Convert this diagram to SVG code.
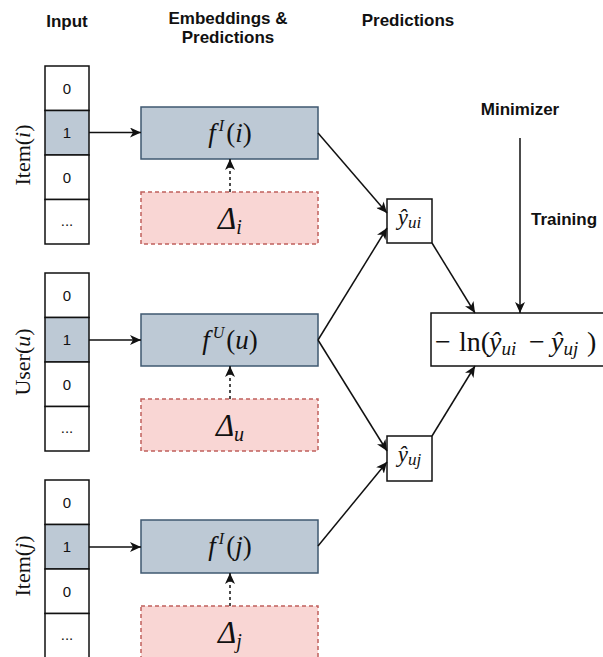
<svg xmlns="http://www.w3.org/2000/svg" width="603" height="657" viewBox="0 0 603 657">
<defs>
<style>
.hdr{font-family:"Liberation Sans",Arial,sans-serif;font-weight:bold;font-size:17px;fill:#111;text-anchor:middle}
.cell{fill:#fff;stroke:#111;stroke-width:1.5}
.hot{fill:#bdc9d5;stroke:#111;stroke-width:1.5}
.num{font-family:"Liberation Sans",Arial,sans-serif;font-size:15px;fill:#111;text-anchor:middle}
.emb{fill:#bdc9d5;stroke:#3f5870;stroke-width:1.5}
.del{fill:#f9d6d4;stroke:#c0605c;stroke-width:1.5;stroke-dasharray:4 3}
.box{fill:#fff;stroke:#111;stroke-width:1.5}
.m{font-family:"Liberation Serif","Times New Roman",serif;fill:#111}
.it{font-style:italic}
.rot{font-family:"Liberation Serif","Times New Roman",serif;font-size:22px;fill:#111;text-anchor:middle}
.ln{stroke:#111;stroke-width:1.5;fill:none}
</style>
<marker id="ah" markerUnits="userSpaceOnUse" markerWidth="12" markerHeight="10" refX="11" refY="5" orient="auto">
<path d="M0,0 L11,5 L0,10 L3,5 Z" fill="#111"/>
</marker>
</defs>
<rect width="603" height="657" fill="#fff"/>

<g id="headers">
<text class="hdr" x="67" y="27">Input</text>
<text class="hdr" x="228" y="24">Embeddings &amp;</text>
<text class="hdr" x="228" y="43">Predictions</text>
<text class="hdr" x="408" y="26">Predictions</text>
<text class="hdr" x="520" y="115">Minimizer</text>
<text class="hdr" x="564" y="225">Training</text>
</g>

<g id="input-item-i">
<rect class="cell" x="45" y="66" width="44" height="44.5"/>
<rect class="hot" x="45" y="110.5" width="44" height="44.5"/>
<rect class="cell" x="45" y="155" width="44" height="44.5"/>
<rect class="cell" x="45" y="199.5" width="44" height="44.5"/>
<text class="num" x="67" y="94">0</text>
<text class="num" x="67" y="138">1</text>
<text class="num" x="67" y="183">0</text>
<text class="num" x="67" y="226">...</text>
<text class="rot" transform="translate(30 155) rotate(-90)">Item(<tspan class="it">i</tspan>)</text>
</g>

<g id="input-user-u">
<rect class="cell" x="45" y="273" width="44" height="44.5"/>
<rect class="hot" x="45" y="317.5" width="44" height="44.5"/>
<rect class="cell" x="45" y="362" width="44" height="44.5"/>
<rect class="cell" x="45" y="406.5" width="44" height="44.5"/>
<text class="num" x="67" y="301">0</text>
<text class="num" x="67" y="345">1</text>
<text class="num" x="67" y="390">0</text>
<text class="num" x="67" y="433">...</text>
<text class="rot" transform="translate(30 362) rotate(-90)">User(<tspan class="it">u</tspan>)</text>
</g>

<g id="input-item-j">
<rect class="cell" x="45" y="480" width="44" height="44.5"/>
<rect class="hot" x="45" y="524.5" width="44" height="44.5"/>
<rect class="cell" x="45" y="569" width="44" height="44.5"/>
<rect class="cell" x="45" y="613.5" width="44" height="50"/>
<text class="num" x="67" y="508">0</text>
<text class="num" x="67" y="552">1</text>
<text class="num" x="67" y="597">0</text>
<text class="num" x="67" y="640">...</text>
<text class="rot" transform="translate(30 566) rotate(-90)">Item(<tspan class="it">j</tspan>)</text>
</g>

<g id="emb-item-i">
<rect class="emb" x="141" y="107" width="177" height="52"/>
<text class="m" x="230" y="142" font-size="27" text-anchor="middle"><tspan class="it">f</tspan><tspan class="it" font-size="16" dx="3" dy="-11">I</tspan><tspan dx="2" dy="11">(</tspan><tspan class="it">i</tspan>)</text>
</g>
<g id="delta-i">
<rect class="del" x="141" y="192" width="177" height="52"/>
<text class="m" x="230" y="229" font-size="31" text-anchor="middle"><tspan class="it">Δ</tspan><tspan class="it" font-size="20" dy="5">i</tspan></text>
</g>

<g id="emb-user-u">
<rect class="emb" x="141" y="314" width="177" height="52"/>
<text class="m" x="230" y="349" font-size="27" text-anchor="middle"><tspan class="it">f</tspan><tspan class="it" font-size="16" dx="3" dy="-11">U</tspan><tspan dx="2" dy="11">(</tspan><tspan class="it">u</tspan>)</text>
</g>
<g id="delta-u">
<rect class="del" x="141" y="399" width="177" height="52"/>
<text class="m" x="230" y="436" font-size="31" text-anchor="middle"><tspan class="it">Δ</tspan><tspan class="it" font-size="20" dy="5">u</tspan></text>
</g>

<g id="emb-item-j">
<rect class="emb" x="141" y="520" width="177" height="53"/>
<text class="m" x="230" y="555" font-size="27" text-anchor="middle"><tspan class="it">f</tspan><tspan class="it" font-size="16" dx="3" dy="-11">I</tspan><tspan dx="2" dy="11">(</tspan><tspan class="it">j</tspan>)</text>
</g>
<g id="delta-j">
<rect class="del" x="141" y="606" width="177" height="60"/>
<text class="m" x="230" y="643" font-size="31" text-anchor="middle"><tspan class="it">Δ</tspan><tspan class="it" font-size="20" dy="5">j</tspan></text>
</g>

<g id="pred-ui">
<rect class="box" x="387" y="199" width="45" height="44"/>
<text class="m it" x="409.5" y="225" font-size="23" text-anchor="middle">ŷ<tspan font-size="17" dy="3">ui</tspan></text>
</g>

<g id="pred-uj">
<rect class="box" x="387" y="436" width="45" height="45"/>
<text class="m it" x="409.5" y="462" font-size="23" text-anchor="middle">ŷ<tspan font-size="17" dy="3">uj</tspan></text>
</g>

<g id="loss">
<rect class="box" x="431" y="313" width="190" height="53"/>
<text class="m" y="351" font-size="28"><tspan x="435">−</tspan><tspan x="459">ln(</tspan><tspan class="it" x="489">ŷ</tspan><tspan class="it" font-size="19" dy="4">ui</tspan><tspan x="529" dy="-4">−</tspan><tspan class="it" x="551">ŷ</tspan><tspan class="it" font-size="19" dy="4">uj</tspan><tspan x="587" dy="-4">)</tspan></text>
</g>

<g id="connectors">
<line class="ln" x1="89" y1="132.5" x2="141" y2="132.5" marker-end="url(#ah)"/>
<line class="ln" x1="89" y1="340" x2="141" y2="340" marker-end="url(#ah)"/>
<line class="ln" x1="89" y1="547" x2="141" y2="547" marker-end="url(#ah)"/>
<line class="ln" x1="230" y1="192" x2="230" y2="159" stroke-dasharray="3 3" marker-end="url(#ah)"/>
<line class="ln" x1="230" y1="399" x2="230" y2="366" stroke-dasharray="3 3" marker-end="url(#ah)"/>
<line class="ln" x1="230" y1="606" x2="230" y2="573" stroke-dasharray="3 3" marker-end="url(#ah)"/>
<line class="ln" x1="318" y1="133" x2="387" y2="213" marker-end="url(#ah)"/>
<line class="ln" x1="318" y1="340" x2="387" y2="228" marker-end="url(#ah)"/>
<line class="ln" x1="318" y1="340" x2="387" y2="451" marker-end="url(#ah)"/>
<line class="ln" x1="318" y1="546" x2="387" y2="462" marker-end="url(#ah)"/>
<line class="ln" x1="432" y1="243" x2="475" y2="313" marker-end="url(#ah)"/>
<line class="ln" x1="432" y1="436" x2="475" y2="366" marker-end="url(#ah)"/>
<line class="ln" x1="520" y1="138" x2="520" y2="313" marker-end="url(#ah)"/>
</g>
</svg>
